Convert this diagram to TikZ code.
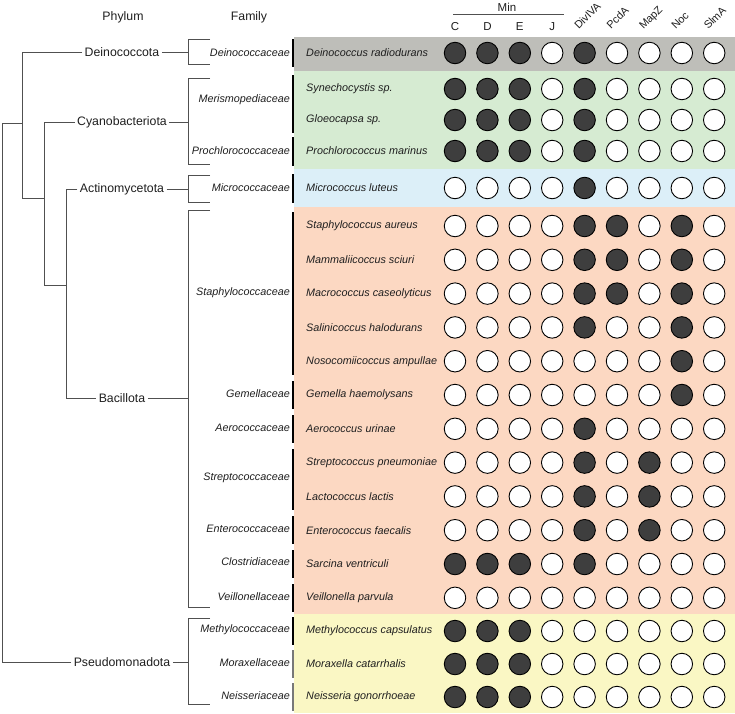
\documentclass[tikz,border=0pt]{standalone}
\usepackage{fontspec}
\setmainfont{Liberation Sans}
\definecolor{cgray}{RGB}{190,190,185}
\definecolor{cgreen}{RGB}{214,235,210}
\definecolor{cblue}{RGB}{220,239,248}
\definecolor{corange}{RGB}{252,216,194}
\definecolor{cyellow}{RGB}{250,247,196}
\definecolor{treecol}{RGB}{80,80,80}
\definecolor{txt}{RGB}{30,30,30}
\definecolor{dotfill}{RGB}{62,62,62}
\definecolor{sepgray}{RGB}{120,120,120}
\tikzset{
  tree/.style={draw=treecol, line width=0.9pt},
  phy/.style={font=\fontsize{12.3}{14}\selectfont, text=txt, inner sep=2.5pt},
  hdr/.style={font=\fontsize{12.3}{14}\selectfont, text=txt, inner sep=0pt},
  fam/.style={font=\fontsize{10.8}{13}\selectfont\itshape, text=txt, anchor=east, inner sep=0pt},
  spc/.style={font=\fontsize{10.8}{13}\selectfont\itshape, text=txt, anchor=west, inner sep=0pt},
  sepline/.style={draw=black, line width=1.1pt},
  seplight/.style={draw=sepgray, line width=1.1pt},
  dotE/.style={circle, draw=black, line width=0.9pt, fill=white, minimum size=21.5pt, inner sep=0pt},
  dotF/.style={dotE, fill=dotfill},
  colhdr/.style={font=\fontsize{11.5}{13}\selectfont, text=txt, inner sep=0pt},
  gene/.style={rotate=45, anchor=base west, font=\fontsize{10.8}{13}\selectfont, text=txt, inner sep=0pt}
}
\begin{document}
\begin{tikzpicture}[x=1pt,y=-1pt]
\useasboundingbox (0,0) rectangle (735,713);
% colour bands
\fill[cgray]   (293.5,37)  rectangle (735,71);
\fill[cgreen]  (293.5,71)  rectangle (735,169);
\fill[cblue]   (293.5,169) rectangle (735,207);
\fill[corange] (293.5,207) rectangle (735,614);
\fill[cyellow] (293.5,614) rectangle (735,713);

% headers
\node[hdr] (hPhy) at (123,17) {Phylum};
\node[hdr] (hFam) at (249,17) {Family};
\node[colhdr] (hMin) at (507,7) {Min};
\coordinate (minL) at (453,14);
\coordinate (minR) at (564,14);
\draw[treecol, line width=0.8pt] (minL) -- (minR);
\foreach \t [count=\j] in {C,D,E,J}
  \node[colhdr] (hc\j) at ({455+(\j-1)*32.4},27) {\t};
\foreach \t [count=\j from 5] in {DivIVA,PcdA,MapZ,Noc,SlmA}
  \node[gene] (hc\j) at ({455+(\j-1)*32.4-6},30) {\t};

% tree
\coordinate (jx) at (188,0);
\coordinate (r1) at (2,123);
\coordinate (r2) at (2,662);
\coordinate (a1) at (22,52);
\coordinate (a2) at (22,198);
\coordinate (b1) at (44,122);
\coordinate (b2) at (44,285);
\coordinate (c1) at (66,189);
\coordinate (c2) at (66,398);
\node[phy] (pDei) at (122,52) {Deinococcota};
\node[phy] (pCya) at (122,122) {Cyanobacteriota};
\node[phy] (pAct) at (122,189) {Actinomycetota};
\node[phy] (pBac) at (122,398) {Bacillota};
\node[phy] (pPse) at (122,662) {Pseudomonadota};
\draw[tree] (pPse.west) -- (r2) -- (r1) -- (a1 |- r1);
\draw[tree] (pDei.west) -- (a1) -- (a2) -- (b1 |- a2);
\draw[tree] (pCya.west) -- (b1) -- (b2) -- (c1 |- b2);
\draw[tree] (pAct.west) -- (c1) -- (c2) -- (pBac.west);
% brackets
\foreach \n/\t/\b in {Dei/39/64, Cya/78/164, Act/175/202, Bac/210/607, Pse/618/704}{
  \coordinate (k\n T) at (210,\t);
  \coordinate (k\n B) at (210,\b);
  \draw[tree] (k\n T) -- (k\n T -| jx) -- (k\n B -| jx) -- (k\n B);
  \draw[tree] (p\n.east) -- (p\n.east -| jx);
}

% family labels
\node[fam] (f1) at (290,53) {Deinococcaceae};
\node[fam] (f2) at (290,100) {Merismopediaceae};
\node[fam] (f3) at (290,151) {Prochlorococcaceae};
\node[fam] (f4) at (290,188) {Micrococcaceae};
\node[fam] (f5) at (290,293) {Staphylococcaceae};
\node[fam] (f6) at (290,394) {Gemellaceae};
\node[fam] (f7) at (290,428) {Aerococcaceae};
\node[fam] (f8) at (290,478) {Streptococcaceae};
\node[fam] (f9) at (290,529) {Enterococcaceae};
\node[fam] (f10) at (290,562) {Clostridiaceae};
\node[fam] (f11) at (290,597) {Veillonellaceae};
\node[fam] (f12) at (290,630) {Methylococcaceae};
\node[fam] (f13) at (290,663) {Moraxellaceae};
\node[fam] (f14) at (290,696) {Neisseriaceae};
% family separators
\foreach \t/\b in {39/67, 75/133, 137/166, 174/203, 212/375, 381/409, 415/443, 449/510, 516/544, 550/578, 584/612, 617/645}
  \draw[sepline] (293,\t) -- (293,\b);
\foreach \t/\b in {650/678, 683/711}
  \draw[seplight] (293,\t) -- (293,\b);

% species and circles
\foreach \y/\nm/\a/\b/\c/\d/\e/\f/\g/\h/\k [count=\i] in {
  53/Deinococcus radiodurans/1/1/1/0/1/0/0/0/0,
  89/Synechocystis sp./1/1/1/0/1/0/0/0/0,
  120/Gloeocapsa sp./1/1/1/0/1/0/0/0/0,
  151/Prochlorococcus marinus/1/1/1/0/1/0/0/0/0,
  188/Micrococcus luteus/0/0/0/0/1/0/0/0/0,
  226/Staphylococcus aureus/0/0/0/0/1/1/0/1/0,
  259.8/Mammaliicoccus sciuri/0/0/0/0/1/1/0/1/0,
  293.6/Macrococcus caseolyticus/0/0/0/0/1/1/0/1/0,
  327.4/Salinicoccus halodurans/0/0/0/0/1/0/0/1/0,
  361.2/Nosocomiicoccus ampullae/0/0/0/0/0/0/0/1/0,
  395/Gemella haemolysans/0/0/0/0/0/0/0/1/0,
  428.8/Aerococcus urinae/0/0/0/0/1/0/0/0/0,
  462.6/Streptococcus pneumoniae/0/0/0/0/1/0/1/0/0,
  496.4/Lactococcus lactis/0/0/0/0/1/0/1/0/0,
  530.2/Enterococcus faecalis/0/0/0/0/1/0/1/0/0,
  564/Sarcina ventriculi/1/1/1/0/1/0/0/0/0,
  597.8/Veillonella parvula/0/0/0/0/0/0/0/0/0,
  631/Methylococcus capsulatus/1/1/1/0/0/0/0/0/0,
  664/Moraxella catarrhalis/1/1/1/0/0/0/0/0/0,
  697/Neisseria gonorrhoeae/1/1/1/0/0/0/0/0/0}{
  \node[spc] (s\i) at (306,\y) {\nm};
  \foreach \v [count=\j] in {\a,\b,\c,\d,\e,\f,\g,\h,\k}{
    \ifnum\v=1
      \node[dotF] (d\i-\j) at ({455+(\j-1)*32.4},\y) {};
    \else
      \node[dotE] (d\i-\j) at ({455+(\j-1)*32.4},\y) {};
    \fi
  }
}
\end{tikzpicture}
\end{document}
